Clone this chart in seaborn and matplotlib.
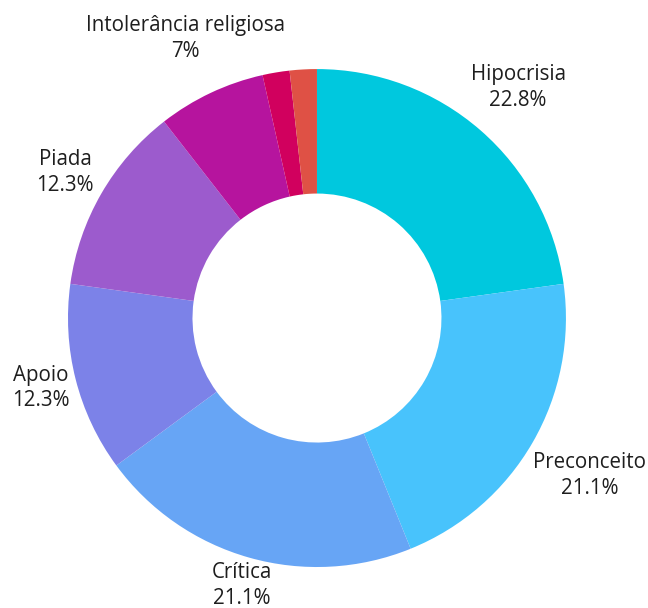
import numpy as np
import matplotlib
matplotlib.use("Agg")
import matplotlib.pyplot as plt
import seaborn as sns

sns.set_style("white")
plt.rcParams['font.family'] = ['Open Sans', 'DejaVu Sans']

# data (57 comments in total)
categories = ["Hipocrisia", "Preconceito", "Crítica", "Apoio", "Piada",
              "Intolerância religiosa", "", ""]
counts = [13, 12, 12, 7, 7, 4, 1, 1]
colors = ["#00C8DE", "#48C3FC", "#67A5F5", "#7C82E8", "#9C5BCD",
          "#B6149E", "#D1005E", "#DF5145"]
label_dist = [1.23, 1.265, 1.115, 1.145, 1.167, 1.24, 0, 0]

fig = plt.figure(figsize=(6.48, 6.08), dpi=100)
ax = fig.add_axes([0.1049, 0.0674, 0.7685, 0.819])

wedges, _ = ax.pie(counts, colors=colors, startangle=90, counterclock=False,
                   radius=1, wedgeprops=dict(width=0.5, linewidth=0))

total = sum(counts)
for w, name, c, d in zip(wedges, categories, counts, label_dist):
    if not name:
        continue
    pct = f"{100 * c / total:.1f}".rstrip('0').rstrip('.')
    ang = np.deg2rad((w.theta1 + w.theta2) / 2)
    ax.text(d * np.cos(ang), d * np.sin(ang), f"{name}\n{pct}%",
            ha="center", va="center", fontsize=14.8, fontstretch="normal",
            color="#1e1e1e", linespacing=1.3, clip_on=False)

ax.set_xlim(-1, 1)
ax.set_ylim(-1, 1)
ax.set_aspect("equal")
ax.axis("off")

fig.savefig("out.png", dpi=100)
